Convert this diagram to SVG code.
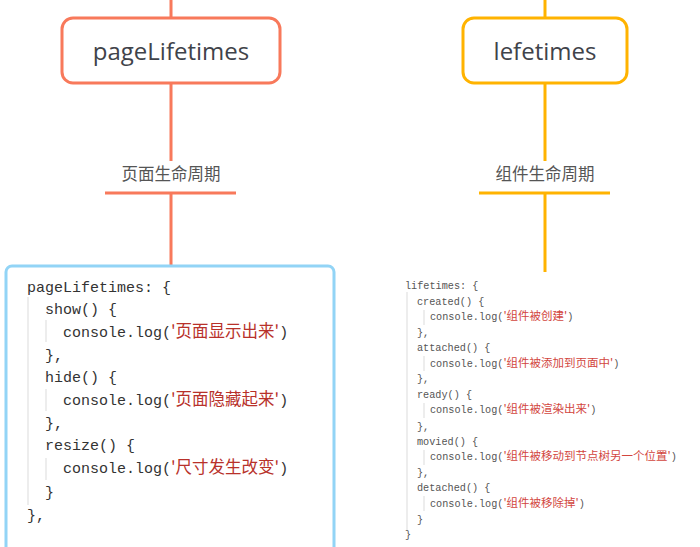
<svg xmlns="http://www.w3.org/2000/svg" width="700" height="547" viewBox="0 0 700 547">
<style>
.node{fill:#fff;stroke-width:3}
.red{stroke:#F8795B}
.amb{stroke:#FFB300}
.title{font-family:"Open Sans","Liberation Sans",sans-serif;font-size:24px;fill:#3f434a;text-anchor:middle}
.lbl{font-family:"Noto Sans CJK SC","Noto Sans",sans-serif;font-size:16.5px;fill:#555;text-anchor:middle}
.conn{fill:none;stroke-width:3}
.code{font-family:"Liberation Mono","Noto Sans CJK SC",monospace;font-size:15px;fill:#333}
.code2{font-family:"Liberation Mono","Noto Sans CJK SC",monospace;font-size:10.2px;fill:#555}
.zh{font-family:"Noto Sans CJK SC",sans-serif;fill:#B8312A}
.zh1{font-size:16.5px}
.zh2{font-size:11.5px;fill:#D2463E}
.guide{stroke:#e2e2e2;stroke-width:1.2}
</style>
<rect width="700" height="547" fill="#fff"/>
<g id="connectors">
<path class="conn red" d="M171 0V18M171 83V161M105 193H236M171 193V272"/>
<path class="conn amb" d="M545 0V18M545 83V161M479 193H610M545 193V272"/>
</g>
<g id="node-pageLifetimes">
<rect class="node red" x="62" y="18" width="218" height="65" rx="11"/>
<text class="title" x="171" y="60">pageLifetimes</text>
</g>
<g id="node-lefetimes">
<rect class="node amb" x="463" y="18" width="164" height="65" rx="11"/>
<text class="title" x="545" y="60">lefetimes</text>
</g>
<g id="label-page">
<text class="lbl" x="171" y="180">页面生命周期</text>
</g>
<g id="label-comp">
<text class="lbl" x="545" y="180">组件生命周期</text>
</g>
<g id="code-page">
<rect x="6" y="266" width="328" height="300" rx="6" fill="#fff" stroke="#92D4F6" stroke-width="3"/>
<path class="guide" d="M28 297V505M46 320V342M46 389V411M46 458V480"/>
<text class="code" x="27" y="292">pageLifetimes: {</text>
<text class="code" x="45" y="314">show() {</text>
<text class="code" x="63" y="337">console.log(<tspan class="zh zh1">'页面显示出来'</tspan>)</text>
<text class="code" x="45" y="360">},</text>
<text class="code" x="45" y="382">hide() {</text>
<text class="code" x="63" y="405">console.log(<tspan class="zh zh1">'页面隐藏起来'</tspan>)</text>
<text class="code" x="45" y="428">},</text>
<text class="code" x="45" y="450">resize() {</text>
<text class="code" x="63" y="473">console.log(<tspan class="zh zh1">'尺寸发生改变'</tspan>)</text>
<text class="code" x="45" y="497">}</text>
<text class="code" x="27" y="520">},</text>
</g>
<g id="code-comp">
<path class="guide" d="M407 292V530M424 310V325M424 356V371M424 403V418M424 450V465M424 496V511"/>
<text class="code2" x="405" y="289">lifetimes: {</text>
<text class="code2" x="417" y="305">created() {</text>
<text class="code2" x="430" y="320">console.log(<tspan class="zh zh2">'组件被创建'</tspan>)</text>
<text class="code2" x="417" y="336">},</text>
<text class="code2" x="417" y="351">attached() {</text>
<text class="code2" x="430" y="367">console.log(<tspan class="zh zh2">'组件被添加到页面中'</tspan>)</text>
<text class="code2" x="417" y="382">},</text>
<text class="code2" x="417" y="398">ready() {</text>
<text class="code2" x="430" y="413">console.log(<tspan class="zh zh2">'组件被渲染出来'</tspan>)</text>
<text class="code2" x="417" y="430">},</text>
<text class="code2" x="417" y="445">movied() {</text>
<text class="code2" x="430" y="460">console.log(<tspan class="zh zh2">'组件被移动到节点树另一个位置'</tspan>)</text>
<text class="code2" x="417" y="476">},</text>
<text class="code2" x="417" y="491">detached() {</text>
<text class="code2" x="430" y="507">console.log(<tspan class="zh zh2">'组件被移除掉'</tspan>)</text>
<text class="code2" x="417" y="523">}</text>
<text class="code2" x="405" y="538">}</text>
</g>
</svg>
